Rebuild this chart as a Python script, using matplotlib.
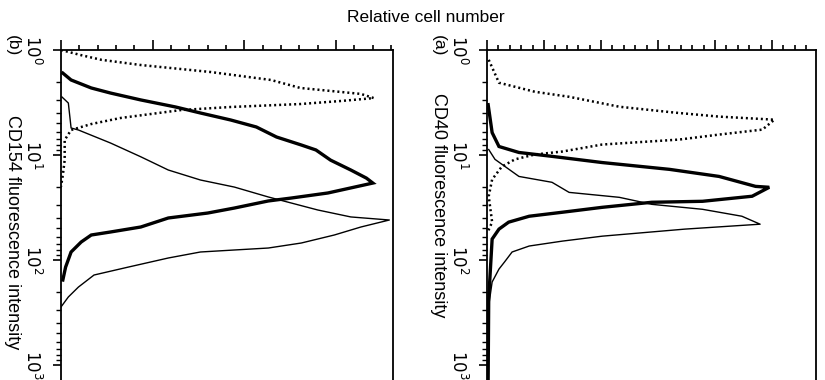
import matplotlib
matplotlib.use("Agg")
import matplotlib.pyplot as plt
from matplotlib.ticker import MultipleLocator, LogLocator, NullFormatter, FixedLocator, FixedFormatter

plt.rcParams['font.family'] = ['Liberation Sans', 'DejaVu Sans']

# ---------------- data (relative cell number vs fluorescence intensity) ----------------
# Panel (b): CD154
b_dot_count = [0, 2.2, 4.4, 8.7, 16.3, 22.9, 26.1, 32.7, 34.1, 30.5, 26.1, 18.5, 13.1, 9.8, 6.5, 3.3, 1.1, 0.4, 0.4, 0.2, 0]
b_dot_int = [1.0, 1.12, 1.24, 1.39, 1.62, 1.93, 2.30, 2.62, 2.87, 3.06, 3.27, 3.49, 3.73, 4.07, 4.44, 5.07, 5.78, 7.2, 11.2, 15.5, 20]

b_thick_count = [0.2, 1.1, 3.3, 5.4, 8.7, 12.5, 15.2, 18.5, 21.3, 23.5, 26.2, 27.8, 29.4, 31.6, 33.3, 34.0,
                 29.1, 25.1, 22.6, 18.9, 16.0, 11.7, 8.7, 5.4, 3.3, 2.2, 1.1, 0.5, 0.2]
b_thick_int = [1.66, 1.93, 2.30, 2.57, 2.99, 3.49, 3.98, 4.64, 5.41, 6.74, 8.03, 8.96, 11.2, 13.9, 16.6, 18.5,
               23.0, 25.7, 27.4, 32.0, 35.7, 39.8, 48.5, 54.1, 57.8, 67.4, 83.9, 117, 155]

b_thin_count = [0.1, 0.8, 1.1, 1.9, 5.4, 8.7, 11.7, 15.2, 18.9, 22.6, 28.0, 31.6, 35.8, 32.7, 29.8, 26.2,
                22.6, 18.9, 15.2, 11.7, 7.3, 3.6, 1.9, 0.8, 0]
b_thin_int = [2.8, 3.20, 5.53, 5.78, 7.69, 10.4, 13.9, 17.3, 20.2, 25.1, 33.4, 38.9, 41.6, 48.5, 57.8, 68.9,
              76.9, 80.3, 83.9, 95.7, 117, 139, 181, 225, 280]

# Panel (a): CD40
a_dot_count = [0.3, 2.1, 8.4, 14.4, 23.2, 33.0, 40.7, 50.4, 48.3, 40.7, 33.7, 20.2, 13.2, 8.4, 4.9, 2.6, 0.9, 0.3, 0.9, 0.2]
a_dot_int = [1.24, 2.05, 2.50, 2.79, 3.47, 3.95, 4.31, 4.61, 5.73, 6.39, 7.13, 7.95, 9.27, 9.89, 11.0, 12.9, 17.1, 24.7, 43.6, 53]

a_thick_count = [0.2, 0.9, 2.1, 5.6, 11.4, 20.2, 32.0, 40.7, 47.1, 49.5, 46.5, 37.8, 28.9, 20.2, 13.2, 7.4, 3.8,
                 2.1, 0.9, 0.3, 0.2]
a_thick_int = [3.32, 6.12, 8.30, 9.46, 10.3, 11.8, 13.7, 16.0, 19.9, 20.3, 24.7, 27.6, 28.2, 31.5, 35.1, 38.3, 43.6,
               50.8, 63.2, 234, 1350]

a_thin_count = [0.3, 1.4, 5.6, 11.4, 14.4, 23.2, 28.9, 37.8, 44.7, 47.9, 34.7, 20.2, 13.2, 7.4, 4.4, 3.1, 2.1,
                0.9, 0.3, 0.2]
a_thin_int = [8.87, 11.0, 16.0, 18.2, 22.7, 25.3, 29.5, 32.9, 38.3, 45.6, 50.8, 59.3, 66.1, 73.6, 83.9, 104, 122,
              162, 273, 450]

decade_ticks = [1, 10, 100, 1000]
decade_labels = ['$10^0$', '$10^1$', '$10^2$', '$10^3$']

W, H = 825, 380
fig = plt.figure(figsize=(W / 100, H / 100), dpi=100)


def make_axes(left_px, right_px, xmax):
    top_px, bot_px = 50, 50 + 3.2 * 105
    ax = fig.add_axes([left_px / W, (H - bot_px) / H, (right_px - left_px) / W, (bot_px - top_px) / H])
    ax.set_yscale('log')
    ax.set_ylim(10 ** 3.2, 1)
    ax.set_xlim(0, xmax)
    ax.spines['bottom'].set_visible(False)
    for s in ['left', 'top', 'right']:
        ax.spines[s].set_linewidth(1.3)
    ax.xaxis.set_ticks_position('top')
    ax.xaxis.set_major_locator(MultipleLocator(10))
    ax.xaxis.set_minor_locator(MultipleLocator(2))
    ax.xaxis.set_major_formatter(NullFormatter())
    ax.tick_params(axis='x', which='major', direction='out', length=7, width=1.2)
    ax.tick_params(axis='x', which='minor', direction='out', length=3.5, width=1.2)
    ax.yaxis.set_major_locator(FixedLocator(decade_ticks))
    ax.yaxis.set_major_formatter(FixedFormatter(decade_labels))
    ax.yaxis.set_minor_locator(LogLocator(base=10, subs=range(2, 10)))
    ax.yaxis.set_minor_formatter(NullFormatter())
    ax.tick_params(axis='y', which='major', direction='out', length=6, width=1.2, pad=7,
                   labelsize=12, labelrotation=-90)
    ax.tick_params(axis='y', which='minor', direction='out', length=3.5, width=1.0)
    for lab in ax.get_yticklabels():
        lab.set_va('center')
        lab.set_ha('right')
    return ax


def draw(ax, dot, thick, thin):
    ax.plot(dot[0], dot[1], color='black', lw=1.8, linestyle=(0, (0.8, 1.2)))
    ax.plot(thick[0], thick[1], color='black', lw=2.4, solid_joinstyle='miter')
    ax.plot(thin[0], thin[1], color='black', lw=1.0)


ax_b = make_axes(61, 393, 36.2)
draw(ax_b, (b_dot_count, b_dot_int), (b_thick_count, b_thick_int), (b_thin_count, b_thin_int))

ax_a = make_axes(487, 816, 57.7)
draw(ax_a, (a_dot_count, a_dot_int), (a_thick_count, a_thick_int), (a_thin_count, a_thin_int))

fig.text(426 / W, 1 - 18 / H, 'Relative cell number', ha='center', va='center', fontsize=12.5)
fig.text(12 / W, 1 - 46 / H, '(b)', ha='center', va='center', fontsize=12.5, rotation=-90)
fig.text(12 / W, 1 - 232 / H, 'CD154 fluorescence intensity', ha='center', va='center', fontsize=13, rotation=-90)
fig.text(438 / W, 1 - 46 / H, '(a)', ha='center', va='center', fontsize=12.5, rotation=-90)
fig.text(438 / W, 1 - 205 / H, 'CD40 fluorescence intensity', ha='center', va='center', fontsize=13, rotation=-90)

fig.savefig('out.png', dpi=100)
